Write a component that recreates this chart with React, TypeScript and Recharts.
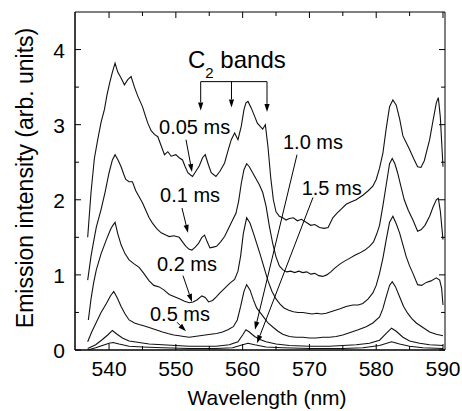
import { LineChart, Line, XAxis, YAxis, ReferenceLine, ReferenceDot, ReferenceArea } from 'recharts';

const FONT = '"Liberation Sans", Arial, Helvetica, sans-serif';
const W = 462;
const H = 411;
const MARGIN = { top: 12, right: 17, left: 15, bottom: 0 };
const Y_AXIS_W = 60;
const X_AXIS_H = 61;
const PLOT_TOP = MARGIN.top;
const PLOT_RIGHT = W - MARGIN.right;
const X_DOMAIN: [number, number] = [534.9, 590.3];
const Y_DOMAIN: [number, number] = [0, 4.5];

// [wavelength nm, intensity arb. units]
const s005: [number, number][] = [
  [536.8, 1.5], [537.3, 2.1], [537.8, 2.55], [538.3, 2.8], [538.8, 3.03], [539.3, 3.2], [539.7, 3.4], [540.1, 3.56],
  [540.5, 3.7], [540.9, 3.82], [541.3, 3.7], [541.8, 3.62], [542.3, 3.53], [542.8, 3.6], [543.3, 3.64], [543.8, 3.5],
  [544.3, 3.38], [545.0, 3.24], [545.5, 3.1], [545.8, 3.02], [546.3, 2.92], [546.8, 2.87], [547.3, 2.84], [547.8, 2.72],
  [548.3, 2.6], [548.8, 2.64], [549.3, 2.58], [550.0, 2.6], [550.5, 2.56], [551.0, 2.53], [551.4, 2.44], [551.8, 2.36],
  [552.2, 2.33], [552.5, 2.31], [553.0, 2.38], [553.5, 2.45], [554.0, 2.56], [554.4, 2.6], [554.9, 2.46], [555.3, 2.36],
  [556.0, 2.31], [556.6, 2.38], [557.3, 2.49], [557.8, 2.65], [558.3, 2.8], [558.8, 2.89], [559.3, 2.8], [559.8, 2.98],
  [560.2, 3.2], [560.5, 3.29], [560.8, 3.31], [561.3, 3.22], [561.8, 3.11], [562.2, 3.02], [562.6, 2.98], [563.0, 2.94],
  [563.4, 3.0], [563.8, 2.7], [564.2, 2.3], [564.6, 2.0], [565.0, 1.84], [565.5, 1.78], [566.0, 1.76], [566.5, 1.73],
  [567.0, 1.75], [567.6, 1.76], [568.2, 1.72], [568.8, 1.74], [569.5, 1.7], [570.2, 1.66], [570.8, 1.67], [571.5, 1.63],
  [572.2, 1.62], [572.8, 1.63], [573.5, 1.76], [574.1, 1.82], [574.8, 1.88], [575.5, 1.94], [576.2, 1.97], [577.0, 2.0],
  [578.0, 2.06], [578.8, 2.12], [579.5, 2.18], [580.0, 2.27], [580.5, 2.42], [581.0, 2.62], [581.5, 2.95], [582.0, 3.24],
  [582.5, 3.33], [583.0, 3.26], [583.5, 3.08], [584.0, 2.85], [584.5, 2.76], [585.0, 2.67], [585.6, 2.55], [586.2, 2.44],
  [586.7, 2.43], [587.2, 2.52], [587.6, 2.66], [588.0, 2.8], [588.5, 3.05], [589.0, 3.29], [589.3, 3.36], [589.6, 3.1],
  [590.0, 2.44],
];

const s01: [number, number][] = [
  [536.8, 0.93], [537.3, 1.25], [537.7, 1.45], [538.1, 1.64], [538.8, 1.87], [539.4, 2.1], [540.0, 2.36], [540.5, 2.53],
  [540.9, 2.6], [541.4, 2.52], [541.8, 2.44], [542.2, 2.34], [542.5, 2.27], [543.0, 2.24], [543.5, 2.24], [544.0, 2.12],
  [544.5, 2.04], [545.0, 1.96], [545.5, 1.86], [546.0, 1.76], [546.5, 1.69], [547.1, 1.62], [547.8, 1.56], [548.5, 1.53],
  [549.0, 1.51], [549.7, 1.52], [550.5, 1.5], [551.0, 1.44], [551.5, 1.38], [552.0, 1.34], [552.4, 1.33], [552.9, 1.37],
  [553.4, 1.42], [553.9, 1.5], [554.3, 1.53], [554.7, 1.44], [555.1, 1.36], [555.6, 1.37], [556.1, 1.38], [556.7, 1.44],
  [557.3, 1.51], [557.9, 1.62], [558.5, 1.73], [559.0, 1.82], [559.4, 1.98], [559.8, 2.22], [560.2, 2.4], [560.6, 2.48],
  [561.0, 2.44], [561.5, 2.36], [562.0, 2.28], [562.5, 2.2], [563.0, 2.1], [563.5, 1.92], [564.0, 1.65], [564.5, 1.42],
  [565.0, 1.24], [565.5, 1.12], [566.0, 1.07], [566.6, 1.04], [567.2, 1.05], [567.8, 1.03], [568.4, 1.05], [569.0, 1.03],
  [569.6, 1.04], [570.2, 1.01], [570.8, 1.02], [571.4, 0.99], [572.0, 0.98], [572.6, 1.0], [573.2, 1.04], [573.8, 1.09],
  [574.5, 1.14], [575.2, 1.18], [576.0, 1.22], [576.8, 1.26], [577.5, 1.29], [578.3, 1.33], [579.0, 1.38], [579.6, 1.44],
  [580.1, 1.55], [580.5, 1.66], [581.0, 1.92], [581.5, 2.2], [582.0, 2.48], [582.4, 2.55], [582.8, 2.48], [583.2, 2.36],
  [583.7, 2.18], [584.2, 2.0], [584.8, 1.86], [585.5, 1.73], [586.2, 1.58], [586.7, 1.6], [587.3, 1.66], [588.0, 1.78],
  [588.5, 1.9], [589.0, 2.0], [589.3, 2.02], [589.6, 1.85], [590.0, 1.47],
];

const s02: [number, number][] = [
  [536.9, 0.4], [537.3, 0.68], [537.7, 0.9], [538.1, 1.07], [538.8, 1.28], [539.6, 1.47], [540.2, 1.6], [540.5, 1.65],
  [540.9, 1.7], [541.3, 1.55], [541.8, 1.4], [542.4, 1.28], [543.0, 1.2], [543.7, 1.15], [544.5, 1.1], [545.2, 1.02],
  [546.0, 0.92], [546.7, 0.86], [547.5, 0.84], [548.2, 0.8], [549.0, 0.74], [549.8, 0.71], [550.6, 0.68], [551.3, 0.65],
  [552.0, 0.63], [552.6, 0.64], [553.2, 0.67], [553.9, 0.72], [554.4, 0.7], [554.9, 0.64], [555.5, 0.66], [556.1, 0.71],
  [556.6, 0.76], [557.3, 0.82], [558.1, 0.89], [558.8, 0.94], [559.3, 1.05], [559.7, 1.25], [560.1, 1.55], [560.6, 1.76],
  [561.1, 1.69], [561.6, 1.56], [562.1, 1.42], [562.6, 1.28], [563.2, 1.1], [563.8, 0.92], [564.4, 0.78], [565.0, 0.68],
  [565.6, 0.61], [566.2, 0.56], [566.9, 0.53], [567.6, 0.51], [568.3, 0.5], [569.0, 0.5], [569.7, 0.49], [570.4, 0.48],
  [571.1, 0.49], [571.8, 0.48], [572.5, 0.49], [573.2, 0.51], [573.9, 0.53], [574.6, 0.55], [575.5, 0.58], [576.5, 0.6],
  [577.3, 0.6], [578.0, 0.62], [578.8, 0.68], [579.5, 0.76], [580.0, 0.86], [580.5, 1.02], [581.0, 1.22], [581.5, 1.47],
  [582.0, 1.7], [582.5, 1.78], [583.0, 1.68], [583.5, 1.56], [584.0, 1.4], [584.5, 1.24], [585.0, 1.12], [585.5, 1.02],
  [586.2, 0.87], [586.8, 0.86], [587.5, 0.9], [588.2, 0.92], [589.0, 0.96], [589.5, 0.93], [589.8, 0.82], [590.0, 0.6],
];

const s05: [number, number][] = [
  [536.8, 0.11], [537.4, 0.24], [538.1, 0.37], [538.8, 0.5], [539.6, 0.62], [540.2, 0.72], [540.7, 0.78], [541.2, 0.7],
  [541.8, 0.58], [542.4, 0.48], [543.0, 0.4], [543.8, 0.36], [544.5, 0.34], [545.3, 0.32], [546.0, 0.3], [547.0, 0.27],
  [548.0, 0.24], [548.8, 0.22], [549.7, 0.2], [550.5, 0.19], [551.2, 0.18], [552.0, 0.17], [552.8, 0.18], [553.6, 0.19],
  [554.4, 0.2], [555.2, 0.21], [556.1, 0.22], [557.0, 0.24], [557.8, 0.27], [558.6, 0.31], [559.2, 0.4], [559.7, 0.58],
  [560.2, 0.78], [560.6, 0.87], [561.1, 0.8], [561.6, 0.67], [562.1, 0.56], [562.6, 0.5], [563.2, 0.43], [563.8, 0.36],
  [564.6, 0.3], [565.3, 0.25], [566.0, 0.21], [567.0, 0.18], [568.0, 0.17], [569.0, 0.17], [570.0, 0.16], [571.0, 0.16],
  [572.0, 0.17], [573.0, 0.17], [574.0, 0.18], [575.0, 0.2], [576.0, 0.23], [577.3, 0.27], [578.5, 0.31], [579.5, 0.36],
  [580.5, 0.44], [581.0, 0.55], [581.5, 0.71], [582.0, 0.86], [582.4, 0.91], [582.9, 0.84], [583.5, 0.71], [584.1, 0.58],
  [584.7, 0.49], [585.3, 0.42], [586.0, 0.36], [587.0, 0.3], [588.0, 0.24], [589.0, 0.21], [590.0, 0.19],
];

const s10: [number, number][] = [
  [536.8, 0.02], [538.0, 0.07], [539.0, 0.14], [539.8, 0.2], [540.5, 0.26], [541.2, 0.21], [542.0, 0.16], [543.0, 0.12],
  [544.5, 0.1], [546.0, 0.08], [548.0, 0.07], [550.0, 0.06], [552.0, 0.05], [554.0, 0.05], [556.0, 0.05], [558.0, 0.07],
  [559.3, 0.11], [560.0, 0.2], [560.5, 0.27], [561.0, 0.24], [561.8, 0.18], [562.6, 0.14], [563.5, 0.11], [565.0, 0.08],
  [567.0, 0.06], [570.0, 0.05], [573.0, 0.05], [575.0, 0.06], [577.0, 0.07], [579.0, 0.09], [580.5, 0.13], [581.5, 0.22],
  [582.3, 0.29], [583.0, 0.25], [584.0, 0.17], [585.0, 0.12], [586.5, 0.09], [588.0, 0.07], [590.0, 0.06],
];

const s15: [number, number][] = [
  [536.8, 0.0], [538.0, 0.03], [539.0, 0.06], [540.0, 0.09], [540.6, 0.1], [541.5, 0.08], [543.0, 0.05], [545.0, 0.04],
  [548.0, 0.03], [552.0, 0.02], [556.0, 0.02], [558.5, 0.03], [560.0, 0.07], [560.8, 0.09], [561.8, 0.07], [563.5, 0.04],
  [566.0, 0.03], [570.0, 0.02], [575.0, 0.02], [578.0, 0.03], [580.5, 0.06], [582.3, 0.11], [583.5, 0.08], [585.0, 0.05],
  [587.0, 0.03], [590.0, 0.02],
];

const spectra = [s005, s01, s02, s05, s10, s15];

const xTicks = [540, 545, 550, 555, 560, 565, 570, 575, 580, 585, 590];
const yTicks = [0, 0.5, 1, 1.5, 2, 2.5, 3, 3.5, 4];

// delay labels: text anchor and arrow (from -> to), in data units
const delayLabels = ['0.05 ms', '0.1 ms', '0.2 ms', '0.5 ms', '1.0 ms', '1.5 ms'];
const labelAt: [number, number][] = [
  [547.48, 2.87], [547.63, 1.97], [547.18, 1.05], [546.13, 0.39], [566.04, 2.68], [568.84, 2.07],
];
const arrowFrom: [number, number][] = [
  [551.52, 2.8], [550.92, 1.89], [551.07, 0.99], [550.17, 0.37], [568.14, 2.6], [570.53, 2.03],
];
const arrowTo: [number, number][] = [
  [552.42, 2.37], [551.82, 1.56], [552.42, 0.64], [551.52, 0.25], [561.85, 0.27], [562.15, 0.09],
];

// C2 bands bracket
const bandTitleAt: [number, number] = [551.82, 3.76];
const bandBarY = 3.573;
const bandArrowX = [553.72, 558.33, 563.65];
const bandArrowTip = [3.19, 3.23, 3.17];

const rows = (s: [number, number][]) => s.map(([w, v]) => ({ w, v }));

function XTick(props: any) {
  const { x, y, payload } = props;
  const v = payload.value;
  const major = v % 10 === 0;
  const len = major ? 6 : 4;
  return (
    <g>
      <line x1={x} y1={y} x2={x} y2={y - len} stroke="#000" />
      <line x1={x} y1={PLOT_TOP} x2={x} y2={PLOT_TOP + len} stroke="#000" />
      {major && (
        <text x={x} y={y + 26} textAnchor="middle" fontSize={21} fontFamily={FONT} fill="#000">
          {v}
        </text>
      )}
    </g>
  );
}

function YTick(props: any) {
  const { x, y, payload } = props;
  const v = payload.value;
  const major = Number.isInteger(v);
  const len = major ? 6 : 4;
  return (
    <g>
      <line x1={x} y1={y} x2={x + len} y2={y} stroke="#000" />
      <line x1={PLOT_RIGHT} y1={y} x2={PLOT_RIGHT - len} y2={y} stroke="#000" />
      {major && (
        <text x={x - 10} y={y + 8} textAnchor="end" fontSize={21} fontFamily={FONT} fill="#000">
          {v}
        </text>
      )}
    </g>
  );
}

function Arrow(props: any) {
  const { x1, y1, x2, y2 } = props;
  const a = Math.atan2(y2 - y1, x2 - x1);
  const L = 8;
  const hw = 2.6;
  const bx = x2 - L * Math.cos(a);
  const by = y2 - L * Math.sin(a);
  const pts = [
    `${x2},${y2}`,
    `${bx + hw * Math.sin(a)},${by - hw * Math.cos(a)}`,
    `${bx - hw * Math.sin(a)},${by + hw * Math.cos(a)}`,
  ].join(' ');
  return (
    <g>
      <line x1={x1} y1={y1} x2={bx} y2={by} stroke="#000" strokeWidth={1} />
      <polygon points={pts} fill="#000" />
    </g>
  );
}

function Plain(props: any) {
  const { x1, y1, x2, y2 } = props;
  return <line x1={x1} y1={y1} x2={x2} y2={y2} stroke="#000" strokeWidth={1} />;
}

export default function App() {
  return (
    <div style={{ position: 'absolute', left: 0, top: 0, width: W, height: H, background: '#fff' }}>
      <LineChart width={W} height={H} margin={MARGIN}>
        <XAxis
          type="number"
          dataKey="w"
          domain={X_DOMAIN}
          allowDataOverflow
          ticks={xTicks}
          interval={0}
          tickSize={0}
          tickMargin={0}
          tickLine={false}
          tick={(p: any) => <XTick {...p} />}
          axisLine={{ stroke: '#000' }}
          height={X_AXIS_H}
          label={{
            content: (p: any) => {
              const vb = p.viewBox;
              return (
                <text x={vb.x + vb.width / 2 + 7} y={vb.y + 55} textAnchor="middle" fontSize={21} fontFamily={FONT} fill="#000">
                  Wavelength (nm)
                </text>
              );
            },
          }}
        />
        <YAxis
          type="number"
          domain={Y_DOMAIN}
          allowDataOverflow
          ticks={yTicks}
          interval={0}
          tickSize={0}
          tickMargin={0}
          tickLine={false}
          tick={(p: any) => <YTick {...p} />}
          axisLine={{ stroke: '#000' }}
          width={Y_AXIS_W}
          label={{
            content: (p: any) => {
              const vb = p.viewBox;
              const cx = vb.x + 10;
              const cy = vb.y + vb.height / 2 - 3;
              return (
                <text
                  x={cx}
                  y={cy}
                  transform={`rotate(-90, ${cx}, ${cy})`}
                  textAnchor="middle"
                  dominantBaseline="central"
                  fontSize={23}
                  fontFamily={FONT}
                  fill="#000"
                >
                  Emission intensity (arb. units)
                </text>
              );
            },
          }}
        />
        <ReferenceArea x1={X_DOMAIN[0]} x2={X_DOMAIN[1]} y1={Y_DOMAIN[0]} y2={Y_DOMAIN[1]} fill="none" stroke="#000" />
        {spectra.map((s, i) => (
          <Line
            key={i}
            data={rows(s)}
            dataKey="v"
            type="linear"
            dot={false}
            stroke="#111"
            strokeWidth={1.1}
            isAnimationActive={false}
          />
        ))}
        {delayLabels.map((t, i) => (
          <ReferenceDot
            key={`l${i}`}
            x={labelAt[i][0]}
            y={labelAt[i][1]}
            r={0}
            shape={(p: any) => (
              <text x={p.cx} y={p.cy} fontSize={20} fontFamily={FONT} fill="#000">
                {t}
              </text>
            )}
          />
        ))}
        {delayLabels.map((_, i) => (
          <ReferenceLine
            key={`a${i}`}
            segment={[
              { x: arrowFrom[i][0], y: arrowFrom[i][1] },
              { x: arrowTo[i][0], y: arrowTo[i][1] },
            ]}
            shape={(p: any) => <Arrow {...p} />}
          />
        ))}
        <ReferenceDot
          x={bandTitleAt[0]}
          y={bandTitleAt[1]}
          r={0}
          shape={(p: any) => (
            <text x={p.cx} y={p.cy} fontSize={24} fontFamily={FONT} fill="#000">
              C
              <tspan fontSize={15} dy={10}>2</tspan>
              <tspan dy={-10}> bands</tspan>
            </text>
          )}
        />
        <ReferenceLine
          segment={[
            { x: bandArrowX[0], y: bandBarY },
            { x: bandArrowX[2], y: bandBarY },
          ]}
          shape={(p: any) => <Plain {...p} />}
        />
        {bandArrowX.map((x, i) => (
          <ReferenceLine
            key={`b${i}`}
            segment={[
              { x, y: bandBarY },
              { x, y: bandArrowTip[i] },
            ]}
            shape={(p: any) => <Arrow {...p} />}
          />
        ))}
      </LineChart>
    </div>
  );
}
